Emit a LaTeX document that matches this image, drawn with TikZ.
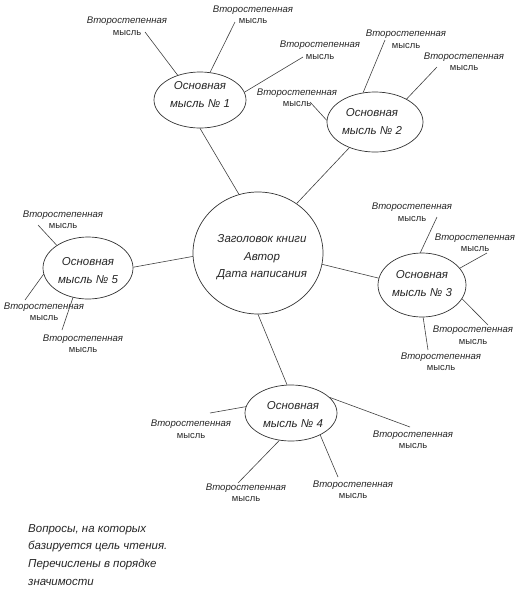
\documentclass[tikz,border=0pt]{standalone}
\usepackage{fontspec}
\setmainfont{Liberation Sans}
\usetikzlibrary{shapes.geometric}
\begin{document}
\begin{tikzpicture}[x=1pt,y=-1pt,
  idea/.style={ellipse,draw=black!80,line width=0.7pt,inner sep=0pt},
  conn/.style={draw=black!75,line width=0.6pt},
  sec/.style={font=\fontsize{9.6}{11.5}\selectfont\itshape,align=center,inner sep=0pt,text=black!85},
  main/.style={font=\fontsize{11.5}{18}\selectfont\itshape,align=center,inner sep=0pt,text=black!85},
  note/.style={font=\fontsize{11.5}{17.8}\selectfont\itshape,align=left,inner sep=0pt,text=black!85,anchor=north west}]
\useasboundingbox (0,0) rectangle (517,598);
\newcommand\mysl{{\upshape\fontsize{9.4}{11.5}\selectfont мысль}}
% ellipses
\node[idea,minimum width=130pt,minimum height=122pt] (c) at (258,253) {};
\node[idea,minimum width=92pt,minimum height=56pt] (m1) at (200,100) {};
\node[idea,minimum width=96pt,minimum height=60pt] (m2) at (375,122) {};
\node[idea,minimum width=88pt,minimum height=64pt] (m3) at (422,285) {};
\node[idea,minimum width=92pt,minimum height=56pt] (m4) at (291,413) {};
\node[idea,minimum width=90pt,minimum height=62pt] (m5) at (88,268) {};
% texts in ellipses
\node[main,font=\fontsize{11.5}{17.5}\selectfont\itshape] (ct) at (262,257.5) {Заголовок книги\\Автор\\Дата написания};
\node[main] (m1t) at (200,94.5) {Основная\\мысль № 1};
\node[main] (m2t) at (372,121.5) {Основная\\мысль № 2};
\node[main] (m3t) at (422,283.5) {Основная\\мысль № 3};
\node[main] (m4t) at (293,415) {Основная\\мысль № 4};
\node[main] (m5t) at (88,270.5) {Основная\\мысль № 5};
% main connectors
\draw[conn] (m1.270) -- (c.108);
\draw[conn] (m2.225) -- (c.52);
\draw[conn] (c.350) -- (m3.171);
\draw[conn] (c.270) -- (m4.98);
\draw[conn] (m5.1) -- (c.183.5);
% secondary labels
\node[sec] (t1a) at (127,26) {Второстепенная\\\mysl};
\node[sec] (t1b) at (253,14.5) {Второстепенная\\\mysl};
\node[sec] (t1c) at (320,50) {Второстепенная\\\mysl};
\node[sec] (t2a) at (297,97.5) {Второстепенная\\\mysl};
\node[sec] (t2b) at (406,39) {Второстепенная\\\mysl};
\node[sec] (t2c) at (464,61.5) {Второстепенная\\\mysl};
\node[sec] (t3a) at (412,212) {Второстепенная\\\mysl};
\node[sec] (t3b) at (475,242.5) {Второстепенная\\\mysl};
\node[sec] (t3c) at (473,335) {Второстепенная\\\mysl};
\node[sec] (t3d) at (441,361.5) {Второстепенная\\\mysl};
\node[sec] (t4a) at (191,429) {Второстепенная\\\mysl};
\node[sec] (t4b) at (413,439.5) {Второстепенная\\\mysl};
\node[sec] (t4c) at (246,492.5) {Второстепенная\\\mysl};
\node[sec] (t4d) at (353,489.5) {Второстепенная\\\mysl};
\node[sec] (t5a) at (63,219.5) {Второстепенная\\\mysl};
\node[sec] (t5b) at (44,311.5) {Второстепенная\\\mysl};
\node[sec] (t5c) at (83,343.5) {Второстепенная\\\mysl};
% free ends
\coordinate (e1a) at (145,32);
\coordinate (e1b) at (235,22);
\coordinate (e1c) at (303,57);
\coordinate (e2a) at (310,102);
\coordinate (e2b) at (385,40);
\coordinate (e2c) at (437,67);
\coordinate (e3a) at (437,217);
\coordinate (e3b) at (487,253);
\coordinate (e3c) at (488,325);
\coordinate (e3d) at (428,350);
\coordinate (e4a) at (210,413);
\coordinate (e4b) at (410,427);
\coordinate (e4c) at (238,483);
\coordinate (e4d) at (338,477);
\coordinate (e5a) at (38,225);
\coordinate (e5b) at (25,300);
\coordinate (e5c) at (62,330);
% secondary connectors
\draw[conn] (m1.132) -- (e1a);
\draw[conn] (m1.70) -- (e1b);
\draw[conn] (m1.10) -- (e1c);
\draw[conn] (m2.178) -- (e2a);
\draw[conn] (m2.112) -- (e2b);
\draw[conn] (m2.36) -- (e2c);
\draw[conn] (m3.93) -- (e3a);
\draw[conn] (m3.24) -- (e3b);
\draw[conn] (m3.341) -- (e3c);
\draw[conn] (m3.272) -- (e3d);
\draw[conn] (m4.172) -- (e4a);
\draw[conn] (m4.22) -- (e4b);
\draw[conn] (m4.247) -- (e4c);
\draw[conn] (m4.323) -- (e4d);
\draw[conn] (m5.144) -- (e5a);
\draw[conn] (m5.188) -- (e5b);
\draw[conn] (m5.243) -- (e5c);
% note
\node[note] (nt) at (28,524) {Вопросы, на которых\\базируется цель чтения.\\Перечислены в порядке\\значимости};
\end{tikzpicture}
\end{document}
